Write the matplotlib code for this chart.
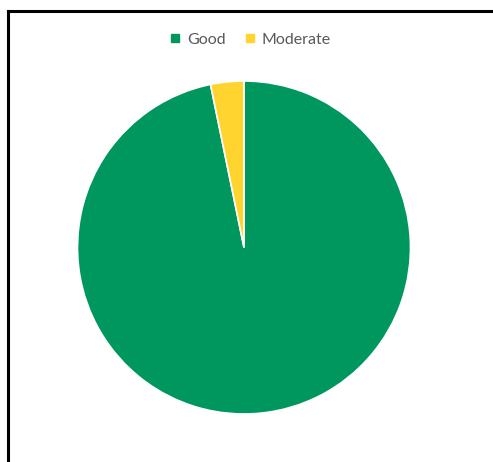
import matplotlib.pyplot as plt
from matplotlib.lines import Line2D

labels = ["Good", "Moderate"]
values = [30, 1]
colors = ["#00975F", "#FFD42E"]

W, H = 493, 462
fig = plt.figure(figsize=(W / 100, H / 100), dpi=100)
fig.patch.set_facecolor("white")

# pie area: centre (244, 247.5) px, radius 166.5 px
cx, cy, r = 244, 247.5, 166.5
ax = fig.add_axes([(cx - r) / W, (H - cy - r) / H, 2 * r / W, 2 * r / H])
ax.pie(values, colors=colors, startangle=90, counterclock=False,
       wedgeprops=dict(edgecolor="white", linewidth=1.2))
ax.set_xlim(-1, 1)
ax.set_ylim(-1, 1)
ax.set_aspect("equal")
ax.axis("off")

# legend
handles = [Line2D([], [], marker="s", linestyle="none", markersize=5.5,
                  markerfacecolor=c, markeredgecolor=c) for c in colors]
leg = fig.legend(handles, labels, ncol=2, loc="center", bbox_to_anchor=(249 / W, 1 - 40 / H),
                 frameon=False, handletextpad=0.25, columnspacing=1.0,
                 handlelength=1.0, prop={"family": "Lato", "size": 11.5})
for t in leg.get_texts():
    t.set_color("#595959")

# chart frame (only top and left edges visible)
fig.add_artist(Line2D([7.5 / W, 1], [1 - 10.5 / H, 1 - 10.5 / H], color="black", linewidth=2.2,
                      transform=fig.transFigure))
fig.add_artist(Line2D([7.5 / W, 7.5 / W], [0, 1 - 10.5 / H], color="black", linewidth=2.2,
                      transform=fig.transFigure))

fig.savefig("out.png", dpi=100)
